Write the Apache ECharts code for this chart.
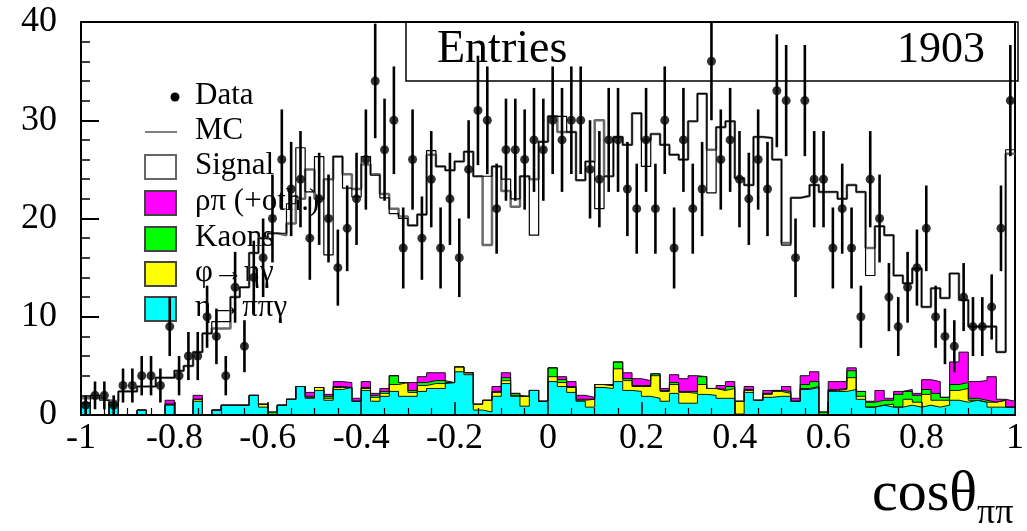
<!DOCTYPE html>
<html><head><meta charset="utf-8">
<script src="https://cdn.jsdelivr.net/npm/echarts@6/dist/echarts.min.js"></script>
<style>html,body{margin:0;padding:0;background:#fff}#c{width:1027px;height:531px}</style>
</head><body><div id="c"></div>
<script>
// ---- histogram binning ----
const nBins = 100, xLow = -1, xHigh = 1;
const xTicks = [-1, -0.8, -0.6, -0.4, -0.2, 0, 0.2, 0.4, 0.6, 0.8, 1];
const yTicks = [0, 10, 20, 30, 40];

// ---- data counts per bin ----
const dataCounts = [1,2,2,1,3,3,4,4,3,9,
 4,6,6,10,8,4,13,7,14,16,
 20,26,23,24,18,22,20,15,19,22,
 26,34,27,30,17,26,18,24,17,22,
 16,25,31,30,21,27,27,26,28,27,
 30,28,30,30,25,24,28,28,23,21,
 28,21,30,17,28,21,23,36,26,28,
 24,22,26,23,33,32,16,32,24,24,
 17,21,17,10,24,20,12,9,13,15,
 19,10,8,7,12,9,9,11,19,32];

// ---- MC total (grey line) ----
const mcTotal = [1.7,1.7,1.5,1.4,2.4,2.4,2.9,2.9,3.8,3.8,
 4.5,5.0,6.4,8.3,8.8,8.8,12.0,13.0,16.5,18.0,
 18.5,18.3,19.5,22.0,25.0,22.0,24.0,26.3,24.5,23.0,
 25.5,24.5,22.5,21.0,20.2,19.3,20.4,26.5,25.3,24.9,
 25.8,26.8,24.3,17.3,25.3,22.8,21.2,24.3,24.0,27.8,
 30.4,28.8,28.8,23.9,25.8,30.0,24.3,28.3,27.5,30.7,
 28.0,28.6,27.5,26.5,26.0,29.9,32.7,27.0,29.3,29.9,
 24.1,23.4,28.3,28.2,26.0,17.5,22.1,22.3,23.4,22.7,
 22.7,22.0,23.4,22.7,17.0,19.2,18.3,14.2,13.4,14.9,
 11.0,12.9,11.9,14.4,11.7,9.0,9.0,9.0,6.4,26.6];

// ---- Signal stack (black line) ----
const signalStack = [1.2,2.0,1.5,1.0,2.4,2.4,2.9,2.9,3.8,3.8,
 4.5,5.0,6.4,8.3,9.5,9.5,12.0,13.0,16.5,18.0,
 18.5,18.5,21.5,27.2,22.7,26.3,16.3,26.3,23.1,22.2,
 26.3,24.4,22.1,20.5,20.0,19.3,20.4,26.9,25.3,24.9,
 25.8,26.8,24.3,24.3,25.3,24.0,22.0,24.3,18.3,27.8,
 30.4,30.4,28.8,23.9,25.8,21.0,24.3,28.3,27.5,30.7,
 25.3,28.6,27.5,26.5,26.0,29.9,32.7,22.6,29.3,29.9,
 24.1,23.4,28.3,28.2,26.0,17.3,22.1,22.3,23.4,22.7,
 22.7,22.0,23.4,22.7,14.2,19.2,18.3,14.2,13.4,14.9,
 11.0,12.9,11.9,14.4,11.7,9.0,9.0,9.0,6.4,27.0];

// ---- backgrounds ----
const etaPiPiGamma = [1.2,0,0,1.3,0,0,0.5,0,0,1.0,
 0,0,1.4,0,0.5,1.0,1.0,1.0,2.0,0.8,
 0,1.0,1.6,2.9,1.7,2.5,1.5,2.6,2.8,1.4,
 2.5,1.4,1.9,2.4,1.9,1.9,2.4,2.7,2.7,3.3,
 4.4,4.1,0.5,0.3,1.9,3.2,1.9,0.9,2.5,1.4,
 3.4,2.9,2.3,1.4,0.8,2.8,2.7,3.4,2.5,2.4,
 1.9,1.7,1.4,2.2,1.2,1.2,2.1,2.0,1.7,1.7,
 0.1,2.3,1.5,1.8,1.9,1.9,1.4,2.6,2.8,0,
 2.4,2.4,2.6,1.6,0.8,1.0,0.8,0.8,1.0,0.8,
 1.0,0.8,1.0,1.5,1.3,1.5,1.3,0.8,0.8,0.8];
const phiEtaGamma = [0,0,0,0,0,0,0,0,0,0.1,
 0,0,0.2,0,0,0,0,0,0,0.3,
 0,0,0,0,0.1,0.3,0.2,0.2,0,0,
 0.2,0.4,0.3,0.7,1.4,0.4,0.6,0.5,0.5,0,
 0.5,0.2,0.6,1.2,0.4,0.3,0.1,1.0,0,0,
 0.5,0.4,0.5,0.1,0.8,0.3,0.3,1.3,1.0,0.5,
 1.0,2.3,1.0,0.9,1.1,1.0,1.0,0.7,0.8,1.0,
 1.3,0.2,0,0.3,0.5,0.3,0,0.1,0.1,0,
 0.1,0.2,1.2,0.3,0,0,0.3,0,0.6,0.5,
 1.1,0.7,0.5,1.0,1.4,0,0,0.5,0.7,0];
const kaons = [0,0,0,0,0,0,0,0,0,0,
 0,0,0,0,0,0,0,0,0,0,
 0.3,0,0,0,0.1,0,0.2,0.1,0,0,
 0.1,0.2,0.2,0.9,0,0.2,0.3,0.3,0.3,0,
 0,0,0,0,0.1,0.3,0.2,0,0,0,
 0.9,0.3,0.1,0.1,0,0,0,0.7,0.2,0.1,
 0.1,0.2,0.1,0.2,0.1,0.2,0.8,0,0.1,0.2,
 0,0.1,0,0.1,0.1,0.2,0,0.4,0.5,0.3,
 0.1,0.1,0.7,0.5,0.5,0.5,0.4,1.3,0.8,0.7,
 0.5,0.7,0.3,0.6,0.6,0.2,0.2,0,0,0];
const rhoPi = [0,0,0,0,0,0,0,0,0,0.4,
 0,0,0.4,0,0,0,0,0,0,0,
 0,0,0,0,0.4,0,0.2,0.5,0.5,0.3,
 0.6,0.2,0.3,0,0,0.8,0.6,0.8,0.8,0,
 0,0,0,0,0.5,0.5,0,0,0,0,
 0,0.3,0.5,0.4,0.2,0,0.1,0,0.6,0.7,
 0.5,0,0.2,0.8,1.3,1.6,0,0,0.4,0.5,
 0,0.3,0,0.3,0,0.5,0.3,0.9,1.0,0,
 0.8,0.7,0.3,0,0.1,1.0,0.2,0.3,0.2,0.2,
 1.0,1.2,0,2.3,3.1,1.7,2.0,2.6,0.1,0.6];

const entries = "1903";

// ---- derived geometry ----
const bw = (xHigh - xLow) / nBins;
const edges = Array.from({length: nBins + 1}, (_, i) => xLow + i * bw);
const centers = Array.from({length: nBins}, (_, i) => xLow + (i + 0.5) * bw);
function stepData(vals) {
  const out = vals.map((v, i) => [edges[i], v]);
  out.push([edges[nBins], vals[nBins - 1]]);
  return out;
}
function addArr(a, b) { return a.map((v, i) => v + b[i]); }
const cum1 = etaPiPiGamma;
const cum2 = addArr(cum1, phiEtaGamma);
const cum3 = addArr(cum2, kaons);
const cum4 = addArr(cum3, rhoPi);

function stackSeries(name, vals, color) {
  return {
    name, type: 'line', step: 'end', data: stepData(vals), symbol: 'none',
    lineStyle: {color: '#111', width: 1}, areaStyle: {color, opacity: 1, origin: 0},
    z: 2, silent: true
  };
}

const serif = 'Liberation Serif';
const chart = echarts.init(document.getElementById('c'), null, {renderer: 'canvas'});
const legendY = [97, 132, 167, 203, 239, 274, 309];
const boxX = 145, boxW = 31, boxH = 24, textX = 195;
const legendFont = '31px "' + serif + '"';
function legText(t, y) {
  return {type: 'text', left: textX, top: y - 17, style: {text: t, font: legendFont, fill: '#000'}, z: 1};
}
function legBox(y, fill, stroke) {
  return {type: 'rect', shape: {x: boxX, y: y - boxH / 2, width: boxW, height: boxH},
    style: {fill, stroke, lineWidth: 2}, z: 1};
}

chart.setOption({
  animation: false,
  grid: {left: 81, right: 9, top: 22, bottom: 116, show: true, borderColor: '#000', borderWidth: 2, backgroundColor: 'transparent'},
  xAxis: {
    type: 'value', min: xTicks[0], max: xTicks[xTicks.length - 1], interval: 0.2, z: 10,
    axisLine: {show: true, onZero: false, lineStyle: {color: '#000', width: 2}},
    axisTick: {show: true, inside: true, length: 13, lineStyle: {color: '#000', width: 1.5}},
    minorTick: {show: true, splitNumber: 4, length: 7, lineStyle: {color: '#000', width: 1.2}},
    splitLine: {show: false},
    axisLabel: {color: '#000', fontFamily: serif, fontSize: 36, margin: 6,
      formatter: v => String(Math.round(v * 10) / 10)}
  },
  yAxis: {
    type: 'value', min: yTicks[0], max: yTicks[yTicks.length - 1], interval: 10, z: 10,
    axisLine: {show: true, onZero: false, lineStyle: {color: '#000', width: 2}},
    axisTick: {show: true, inside: true, length: 18, lineStyle: {color: '#000', width: 2}},
    minorTick: {show: true, splitNumber: 5, length: 9, lineStyle: {color: '#000', width: 1.5}},
    splitLine: {show: false},
    axisLabel: {color: '#000', fontFamily: serif, fontSize: 36, margin: 24}
  },
  series: [
    stackSeries('ρπ (+oth.)', cum4, '#ff00ff'),
    stackSeries('Kaons', cum3, '#00ff00'),
    stackSeries('φ→ηγ', cum2, '#ffff00'),
    stackSeries('η→ππγ', cum1, '#00ffff'),
    {name: 'MC', type: 'line', step: 'end', data: stepData(mcTotal), symbol: 'none',
      lineStyle: {color: '#6a6a6a', width: 2.5}, z: 3, silent: true},
    {name: 'Signal', type: 'line', step: 'end', data: stepData(signalStack), symbol: 'none',
      lineStyle: {color: '#000', width: 1.2}, z: 4, silent: true},
    {name: 'err', type: 'custom', clip: true, z: 5, silent: true,
      data: dataCounts.map((v, i) => [centers[i], v]),
      renderItem(params, api) {
        const x = api.value(0), y = api.value(1), e = Math.sqrt(y);
        const p1 = api.coord([x, y - e]), p2 = api.coord([x, y + e]);
        return {type: 'line', shape: {x1: p1[0], y1: p1[1], x2: p2[0], y2: p2[1]},
          style: {stroke: '#000', lineWidth: 2.6}};
      }},
    {name: 'Data', type: 'scatter', data: dataCounts.map((v, i) => [centers[i], v]),
      symbol: 'circle', symbolSize: 9, itemStyle: {color: '#000'}, z: 6, silent: true}
  ],
  graphic: [
    // stats box
    {type: 'rect', shape: {x: 406, y: 22, width: 612, height: 59}, style: {fill: 'none', stroke: '#000', lineWidth: 1.5}, z: 1},
    {type: 'text', left: 437, top: 27, style: {text: 'Entries', font: '46px "' + serif + '"', fill: '#000'}, z: 1},
    {type: 'text', right: 42, top: 28, style: {text: entries, font: '44px "' + serif + '"', fill: '#000'}, z: 1},
    // legend
    {type: 'circle', shape: {cx: 175, cy: legendY[0], r: 4.5}, style: {fill: '#000'}, z: 1},
    legText('Data', legendY[0]),
    {type: 'line', shape: {x1: boxX, y1: legendY[1], x2: boxX + boxW + 1, y2: legendY[1]}, style: {stroke: '#555', lineWidth: 1.5}, z: 1},
    legText('MC', legendY[1]),
    legBox(legendY[2], '#fff', '#666'), legText('Signal', legendY[2]),
    legBox(legendY[3], '#ff00ff', '#444'), legText('ρπ (+oth.)', legendY[3]),
    legBox(legendY[4], '#00ff00', '#444'), legText('Kaons', legendY[4]),
    legBox(legendY[5], '#ffff00', '#444'), legText('φ→ηγ', legendY[5]),
    legBox(legendY[6], '#00ffff', '#444'), legText('η→ππγ', legendY[6]),
    // axis title
    {type: 'text', left: 872, top: 466, style: {text: 'cosθ', font: '58px "' + serif + '"', fill: '#000'}, z: 1},
    {type: 'text', left: 977, top: 496, style: {text: 'ππ', font: '36px "' + serif + '"', fill: '#000'}, z: 1}
  ]
});
</script></body></html>
